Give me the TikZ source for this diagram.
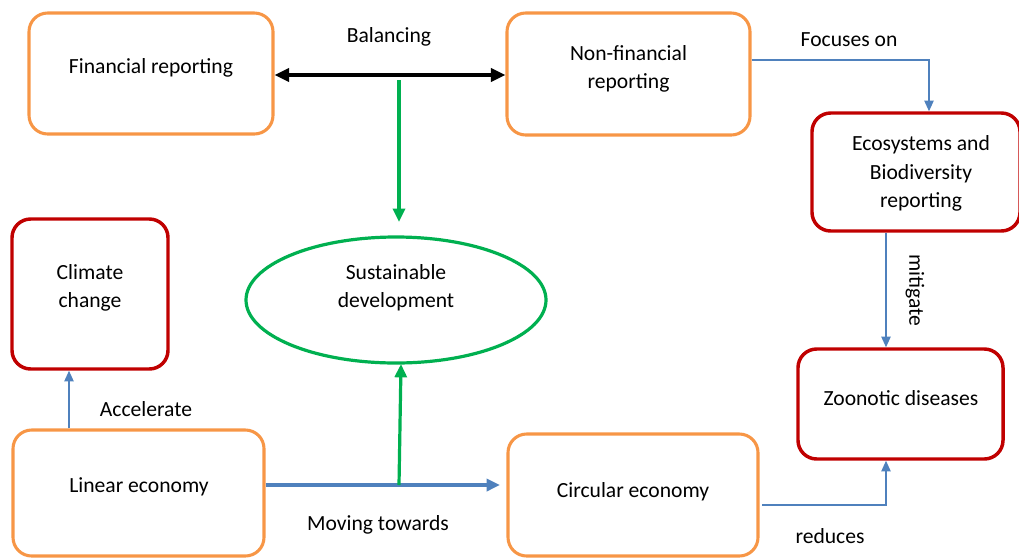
\documentclass[tikz,border=0pt]{standalone}
\usepackage{fontspec}
\setmainfont{Carlito}
\usetikzlibrary{arrows.meta,shapes.geometric,calc}
\definecolor{orng}{HTML}{F79646}
\definecolor{rd}{HTML}{C00000}
\definecolor{grn}{HTML}{00B050}
\definecolor{blu}{HTML}{4F81BD}
\tikzset{
  base/.style={rounded corners=14pt, inner sep=0pt},
  obox/.style={base, draw=orng, line width=2.3pt},
  rbox/.style={base, draw=rd, line width=2.6pt},
  lbl/.style={font=\fontsize{16.2}{21.3}\selectfont, inner sep=0pt, align=center, yshift=-1.5pt},
  thin/.style={draw=blu, line width=1.1pt, -{Triangle[length=8pt,width=7pt]}},
  thick/.style={draw=blu, line width=3pt, -{Triangle[length=10pt,width=9pt]}},
  gr/.style={draw=grn, line width=2.4pt, -{Triangle[length=10pt,width=9pt]}},
}
\begin{document}
\begin{tikzpicture}[x=0.75pt,y=-0.75pt]
\useasboundingbox (0,0) rectangle (1019,557);
\node[obox, minimum width=183pt, minimum height=90.75pt] (fin) at (151,73.5) {};
\node[lbl] (fint) at (151,66) {Financial reporting};
\node[obox, minimum width=182.25pt, minimum height=91.5pt] (nonfin) at (628.5,74) {};
\node[lbl] (nonfint) at (628.5,67) {Non-financial\\reporting};
\node[rbox, minimum width=156pt, minimum height=88.5pt] (eco) at (916,172) {};
\node[lbl] (ecot) at (921,171.5) {Ecosystems and\\Biodiversity\\reporting};
\node[rbox, minimum width=117pt, minimum height=112.5pt] (clim) at (90,294) {};
\node[lbl] (climt) at (90,286) {Climate\\change};
\node[ellipse, draw=grn, line width=2.4pt, minimum width=225pt, minimum height=94.5pt, inner sep=0pt] (sd) at (396,300) {};
\node[lbl] (sdt) at (396,286) {Sustainable\\development};
\node[rbox, minimum width=153.75pt, minimum height=82.5pt] (zoo) at (900.5,404) {};
\node[lbl] (zoot) at (901,396) {Zoonotic diseases};
\node[obox, minimum width=188.25pt, minimum height=94.5pt] (lin) at (138.5,493) {};
\node[lbl] (lint) at (139,485) {Linear economy};
\node[obox, minimum width=187.5pt, minimum height=91.5pt] (circ) at (633,495) {};
\node[lbl] (circt) at (633,490) {Circular economy};

% balancing
\draw[line width=2.4pt, {Triangle[length=11pt,width=10pt]}-{Triangle[length=11pt,width=10pt]}] ($(fin.east)+(0,1.5)$) -- ($(nonfin.west)+(0,1)$);
\node[lbl] (bal) at (389,35) {Balancing};
\coordinate (gtop) at (399,80);
\coordinate (gend) at (399,222);
\draw[gr] (gtop) -- (gend);

% moving towards
\coordinate (lstart) at (lin.east |- 0,485);
\coordinate (cend) at (500,485);
\draw[thick] (lstart) -- (cend);
\node[lbl] (mov) at (378,523) {Moving towards};
\coordinate (gbot) at (399,485);
\draw[gr] (gbot) -- (401,364);

% focuses on
\coordinate (fs) at (nonfin.east |- 0,60);
\draw[thin] (fs) -| (eco.north -| 929,0);
\node[lbl] (foc) at (849,38) {Focuses on};

% mitigate
\draw[thin] (eco.south -| 886,0) -- (zoo.north -| 886,0);
\node[lbl, rotate=-90, yshift=1.5pt, xshift=-1.5pt] (mit) at (913,290) {mitigate};

% accelerate
\draw[thin] (lin.north -| 69,0) -- (clim.south -| 69,0);
\node[lbl] (acc) at (146,407) {Accelerate};

% reduces
\coordinate (rs) at (762,505);
\draw[thin] (rs) -| (zoo.south -| 886,0);
\node[lbl] (red) at (830,534) {reduces};
\end{tikzpicture}
\end{document}
